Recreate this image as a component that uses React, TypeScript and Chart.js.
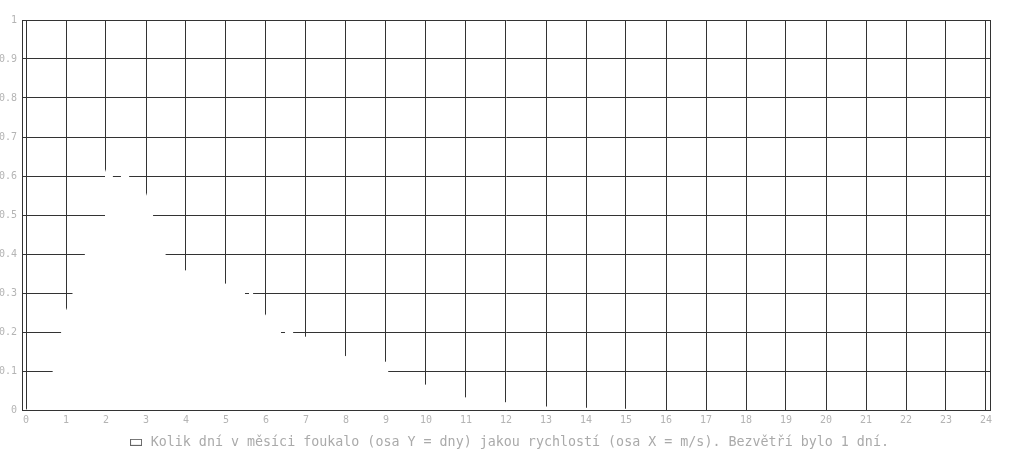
import { useEffect, useRef } from "react";
import { Chart, registerables } from "chart.js";

Chart.register(...registerables);

// Wind speed (m/s) along the distribution curve
const speeds = [
  0, 0.675, 0.88, 1, 1.167, 1.475, 1.96, 1.975, 2.0, 2.15, 2.19, 2.36, 2.39, 2.55, 2.59, 3,
  3.475, 4, 5, 5.46, 5.49, 5.56, 5.59, 5.66, 5.69, 6, 6.36, 6.39, 6.46, 6.49, 6.66, 6.69, 7,
  8, 9, 9.06, 10, 11, 12, 13, 14, 15, 15.5, 24,
];
// Days (Y) at those speeds
const days = [
  0, 0.1, 0.2, 0.255, 0.3, 0.4, 0.49, 0.61, 0.617, 0.61, 0.59, 0.59, 0.61, 0.61, 0.594, 0.557,
  0.4, 0.357, 0.324, 0.308, 0.29, 0.29, 0.308, 0.308, 0.292, 0.242, 0.208, 0.19, 0.19, 0.208, 0.208, 0.193, 0.188,
  0.138, 0.124, 0.097, 0.065, 0.032, 0.02, 0.009, 0.006, 0.003, 0, 0,
];

const xMin = 0;
const xMax = 24;
const yMin = 0;
const yMax = 1;
const yStep = 0.1;
const calmDays = 1;
const legendLabel = `Kolik dní v měsíci foukalo (osa Y = dny) jakou rychlostí (osa X = m/s). Bezvětří bylo ${calmDays} dní.`;

const MONO = '"DejaVu Sans Mono", "Liberation Mono", monospace';
const GRID = "#333333";
const TEXT = "#b4b4b4";

function makeLegendBox(): HTMLCanvasElement {
  const c = document.createElement("canvas");
  c.width = 12;
  c.height = 7;
  const ctx = c.getContext("2d")!;
  ctx.fillStyle = "#ffffff";
  ctx.fillRect(0, 0, 12, 7);
  ctx.strokeStyle = "#666666";
  ctx.lineWidth = 1;
  ctx.strokeRect(0.5, 0.5, 11, 6);
  return c;
}

export default function App() {
  const ref = useRef<HTMLCanvasElement>(null);

  useEffect(() => {
    if (!ref.current) return;
    const box = makeLegendBox();
    const chart = new Chart(ref.current, {
      type: "line",
      data: {
        datasets: [
          {
            label: legendLabel,
            data: speeds.map((x, i) => ({ x, y: days[i] })),
            fill: "origin",
            backgroundColor: "#ffffff",
            borderColor: "#ffffff",
            borderWidth: 0,
            pointRadius: 0,
            tension: 0,
          },
        ],
      },
      options: {
        animation: false,
        responsive: false,
        maintainAspectRatio: false,
        layout: { padding: { top: 20, left: 0, right: 0, bottom: 0 } },
        plugins: {
          legend: {
            position: "bottom",
            labels: {
              font: { family: MONO, size: 13.33 },
              color: "#aaaaaa",
              usePointStyle: true,
              pointStyleWidth: 16,
              boxWidth: 16,
              boxHeight: 6,
              padding: 10,
              generateLabels: () => [
                {
                  text: legendLabel,
                  fillStyle: "#ffffff",
                  strokeStyle: "#666666",
                  lineWidth: 1,
                  pointStyle: box,
                  hidden: false,
                  datasetIndex: 0,
                  fontColor: "#aaaaaa",
                },
              ],
            },
          },
          tooltip: { enabled: false },
        },
        scales: {
          x: {
            type: "linear",
            min: xMin - 0.1,
            max: xMax + 0.1,
            ticks: {
              stepSize: 1,
              includeBounds: false,
              autoSkip: false,
              maxRotation: 0,
              font: { family: MONO, size: 10 },
              color: TEXT,
              padding: 4,
            },
            grid: { color: GRID, drawTicks: false },
            border: { color: GRID, z: 1 },
            afterFit: (s: any) => {
              s.height = 15.67;
            },
          },
          y: {
            type: "linear",
            min: yMin,
            max: yMax,
            ticks: {
              stepSize: yStep,
              font: { family: MONO, size: 10 },
              color: TEXT,
              padding: 5,
              callback: (v: any) => String(parseFloat(Number(v).toFixed(1))),
            },
            grid: { color: GRID, drawTicks: false },
            border: { color: GRID },
            afterFit: (s: any) => {
              s.width = 22;
            },
          },
          y2: {
            type: "linear",
            position: "right",
            display: true,
            grid: { display: false, drawTicks: false },
            ticks: { display: false },
            border: { color: GRID },
            afterFit: (s: any) => {
              s.width = 27;
            },
          },
        },
      },
    });
    return () => chart.destroy();
  }, []);

  return (
    <div
      style={{
        position: "fixed",
        left: 0,
        top: 0,
        width: 1017,
        height: 452,
        overflow: "hidden",
        background: "#fff",
      }}
    >
      <canvas ref={ref} width={1017} height={459} style={{ display: "block" }} />
    </div>
  );
}
